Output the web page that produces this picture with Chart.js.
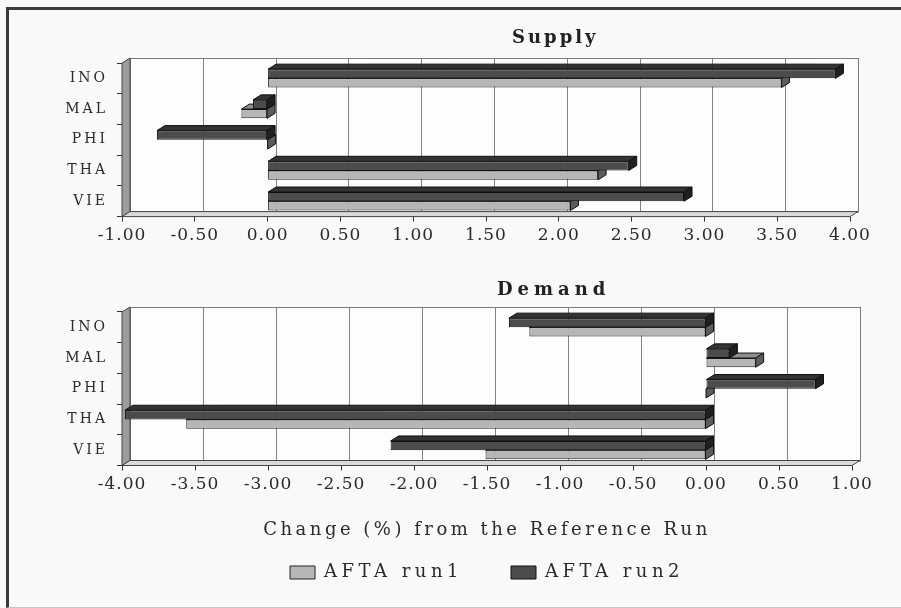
<!DOCTYPE html>
<html>
<head>
<meta charset="utf-8">
<script src="https://cdn.jsdelivr.net/npm/chart.js@4.4.1/dist/chart.umd.min.js"></script>
<style>
  html, body { margin: 0; padding: 0; background: #f9f9f9; }
  #wrap { position: relative; width: 901px; height: 608px; overflow: hidden; }
  #frame { position: absolute; left: 6px; top: 7px; width: 900px; height: 597px;
           border-left: 3px solid #3a3a3a; border-top: 3px solid #3a3a3a; border-bottom: 1px solid #c4c4c4; }
  canvas { position: absolute; left: 0; }
  #supply { top: 0; }
  #demand { top: 250px; }
</style>
</head>
<body>
<div id="wrap">
  <div id="frame"></div>
  <canvas id="supply" width="901" height="250"></canvas>
  <canvas id="demand" width="901" height="358"></canvas>
</div>
<script>
// Countries and the two simulation runs (% change from the reference run)
const countries = ['INO', 'MAL', 'PHI', 'THA', 'VIE'];
const seriesNames = ['AFTA run1', 'AFTA run2'];
const supplyRun1 = [3.53, -0.18, 0.00, 2.27, 2.08];
const supplyRun2 = [3.90, -0.10, -0.76, 2.48, 2.86];
const demandRun1 = [-1.21, 0.34, 0.00, -3.56, -1.51];
const demandRun2 = [-1.35, 0.16, 0.75, -3.98, -2.16];
const supplyRange = [-1, 4];
const demandRange = [-4, 1];
const tickStep = 0.5;
const panelTitles = ['Supply', 'Demand'];
const axisTitle = 'Change (%) from the Reference Run';

// Drawing style
const FONT = '"DejaVu Serif", "Liberation Serif", serif';
const INK = '#2a2a2a';
const DX = 8, DY = -5;             // depth offset of the 3-D look
const tones = {
  light: { front: '#b6b6b6', top: '#8e8e8e', end: '#5c5c5c' },
  dark:  { front: '#4c4c4c', top: '#333333', end: '#202020' }
};

function poly(ctx, pts, fill, stroke) {
  ctx.beginPath();
  ctx.moveTo(pts[0][0], pts[0][1]);
  for (let i = 1; i < pts.length; i++) ctx.lineTo(pts[i][0], pts[i][1]);
  ctx.closePath();
  ctx.fillStyle = fill; ctx.fill();
  ctx.strokeStyle = stroke; ctx.lineWidth = 1; ctx.stroke();
}

// Give a scale's tick labels / title their own tracking
function trackScale(scale, labelSpacing, titleSpacing) {
  if (scale._tracked) return;
  scale._tracked = true;
  const drawLabels = scale.drawLabels;
  scale.drawLabels = function (area) {
    this.ctx.save(); this.ctx.letterSpacing = labelSpacing;
    drawLabels.call(this, area);
    this.ctx.restore();
  };
  const drawTitle = scale.drawTitle;
  scale.drawTitle = function () {
    this.ctx.save(); this.ctx.letterSpacing = titleSpacing || labelSpacing;
    drawTitle.call(this);
    this.ctx.restore();
  };
}

function depthPlugin(title, titleX, titleBaseline, titleSpacing) {
  return {
    id: 'depth',
    beforeUpdate(chart) { chart.ctx.letterSpacing = '4.5px'; },
    beforeDraw(chart) { chart.ctx.letterSpacing = '4.5px'; },
    beforeDatasetsDraw(chart) {
      const { ctx, chartArea: a, scales: { x } } = chart;
      const L = a.left, R = a.right, T = a.top, B = a.bottom;
      ctx.save();
      // back wall
      ctx.fillStyle = '#fdfdfd';
      ctx.fillRect(L + DX, T + DY, R - L, B - T);
      // vertical gridlines on the back wall
      ctx.strokeStyle = '#828282'; ctx.lineWidth = 1;
      x.ticks.forEach(t => {
        const px = Math.round(x.getPixelForValue(t.value) + DX) + 0.5;
        ctx.beginPath(); ctx.moveTo(px, T + DY); ctx.lineTo(px, B + DY); ctx.stroke();
      });
      ctx.strokeStyle = '#7a7a7a';
      ctx.strokeRect(L + DX + 0.5, T + DY + 0.5, R - L, B - T);
      // side wall and floor
      poly(ctx, [[L, T], [L + DX, T + DY], [L + DX, B + DY], [L, B]], '#9c9c9c', '#444');
      poly(ctx, [[L, B], [L + DX, B + DY], [R + DX, B + DY], [R, B]], '#dadada', '#444');
      ctx.restore();
    },
    afterDatasetDraw(chart, args) {
      const ctx = chart.ctx;
      const tone = chart.data.datasets[args.index].faces;
      ctx.save();
      args.meta.data.forEach(bar => {
        const p = bar.getProps(['x', 'y', 'base', 'height'], true);
        const l = Math.min(p.x, p.base), r = Math.max(p.x, p.base);
        const t = p.y - p.height / 2, b = p.y + p.height / 2;
        poly(ctx, [[l, t], [l + DX, t + DY], [r + DX, t + DY], [r, t]], tone.top, '#111');
        poly(ctx, [[r, t], [r + DX, t + DY], [r + DX, b + DY], [r, b]], tone.end, '#111');
      });
      ctx.restore();
    },
    afterDraw(chart) {
      const ctx = chart.ctx;
      ctx.save();
      ctx.letterSpacing = titleSpacing;
      ctx.font = 'bold 18px ' + FONT;
      ctx.fillStyle = '#222222';
      ctx.textAlign = 'left';
      ctx.textBaseline = 'alphabetic';
      ctx.fillText(title, titleX, titleBaseline);
      ctx.restore();
    }
  };
}

function makeChart(id, run1, run2, range, opts) {
  return new Chart(document.getElementById(id), {
    type: 'bar',
    data: {
      labels: countries,
      datasets: [
        { label: seriesNames[1], data: run2, faces: tones.dark,
          backgroundColor: tones.dark.front, borderColor: '#111', borderWidth: 1, borderSkipped: false },
        { label: seriesNames[0], data: run1, faces: tones.light,
          backgroundColor: tones.light.front, borderColor: '#222', borderWidth: 1, borderSkipped: false }
      ]
    },
    options: {
      indexAxis: 'y',
      responsive: false,
      animation: false,
      devicePixelRatio: 1,
      layout: { padding: opts.padding },
      datasets: { bar: { categoryPercentage: 0.6, barPercentage: 1.0 } },
      scales: {
        x: {
          type: 'linear', min: range[0], max: range[1],
          ticks: { stepSize: tickStep, color: INK, padding: 4,
                   font: { family: FONT, size: 17 },
                   callback: v => v.toFixed(2) },
          grid: { drawOnChartArea: false, drawTicks: true, tickLength: 5, color: '#333' },
          border: { display: false },
          title: opts.xTitle,
          afterFit: s => trackScale(s, '1px', '3.5px')
        },
        y: {
          ticks: { color: INK, padding: 9, font: { family: FONT, size: 14 } },
          grid: { drawOnChartArea: false, drawTicks: true, tickLength: 5, color: '#333', offset: true },
          border: { display: false },
          afterFit: s => { s.width = 122; trackScale(s, '3px'); }
        }
      },
      plugins: {
        legend: opts.legend,
        tooltip: { enabled: false }
      }
    },
    plugins: [depthPlugin(opts.title, opts.titleX, opts.titleBaseline, opts.titleSpacing)]
  });
}

makeChart('supply', supplyRun1, supplyRun2, supplyRange, {
  padding: { left: 0, right: 51, top: 63, bottom: 0 },
  title: panelTitles[0], titleX: 512, titleBaseline: 43, titleSpacing: '3px',
  xTitle: { display: false },
  legend: { display: false }
});

makeChart('demand', demandRun1, demandRun2, demandRange, {
  padding: { left: 0, right: 49, top: 62, bottom: 16.5 },
  title: panelTitles[1], titleX: 497, titleBaseline: 45, titleSpacing: '5px',
  xTitle: { display: true, text: axisTitle, color: INK,
            font: { family: FONT, size: 18 }, padding: { top: 21, bottom: -26 } },
  legend: {
    display: true, position: 'bottom', fullSize: false,
    labels: { boxWidth: 25, boxHeight: 13, padding: 48, color: INK,
              font: { family: FONT, size: 18 },
              sort: (a, b) => b.datasetIndex - a.datasetIndex }
  }
});
</script>
</body>
</html>
